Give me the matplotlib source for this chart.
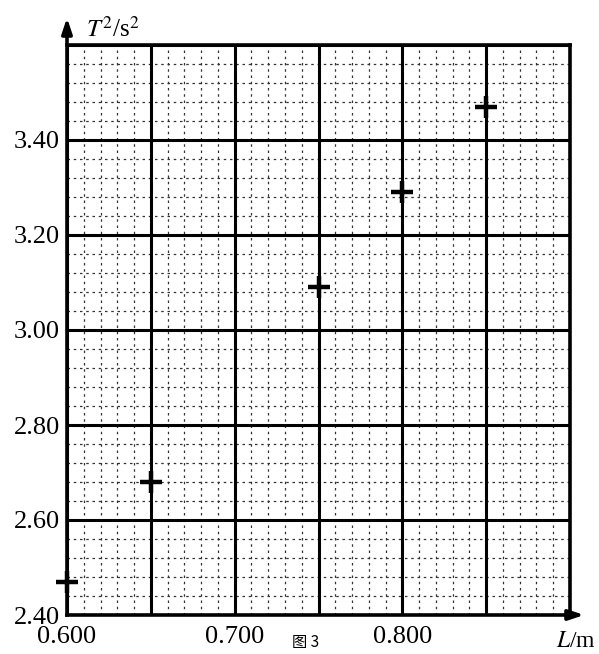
import matplotlib
matplotlib.use("Agg")
import matplotlib.pyplot as plt
from matplotlib.ticker import FixedLocator, FixedFormatter

# data
L_values = [0.600, 0.650, 0.750, 0.800, 0.850]
T2_values = [2.47, 2.68, 3.09, 3.29, 3.47]
x_tick_values = [0.600, 0.700, 0.800]
x_tick_labels = ["0.600", "0.700", "0.800"]
y_tick_values = [2.40, 2.60, 2.80, 3.00, 3.20, 3.40]
y_tick_labels = ["2.40", "2.60", "2.80", "3.00", "3.20", "3.40"]

plt.rcParams['font.family'] = ['Liberation Serif', 'Noto Sans CJK SC', 'DejaVu Sans']
plt.rcParams['mathtext.fontset'] = 'stix'

W, H = 599, 654
fig = plt.figure(figsize=(W / 100, H / 100), dpi=100)
left, right, bottom, top = 67, 570, 615, 45
ax = fig.add_axes([left / W, 1 - bottom / H, (right - left) / W, (bottom - top) / H])

ax.set_xlim(0.6, 0.9)
ax.set_ylim(2.4, 3.6)

# grid lines
for k in range(31):
    x = 0.60 + 0.01 * k
    if k % 5 == 0:
        ax.axvline(x, color='black', lw=2.2, zorder=2)
    else:
        ax.axvline(x, color='#333333', lw=0.9, ls=(0, (2, 3)), zorder=1)
for k in range(31):
    y = 2.40 + 0.04 * k
    if k % 5 == 0:
        ax.axhline(y, color='black', lw=2.2, zorder=2)
    else:
        ax.axhline(y, color='#333333', lw=0.9, ls=(0, (2, 3)), zorder=1)

ax.xaxis.set_major_locator(FixedLocator(x_tick_values))
ax.xaxis.set_major_formatter(FixedFormatter(x_tick_labels))
ax.yaxis.set_major_locator(FixedLocator(y_tick_values))
ax.yaxis.set_major_formatter(FixedFormatter(y_tick_labels))
ax.tick_params(length=0, labelsize=19, pad=5)
ax.tick_params(axis='x', pad=8)

for s in ax.spines.values():
    s.set_linewidth(2.6)

ax.plot(L_values, T2_values, linestyle='none', marker='+', markersize=16,
        markeredgewidth=3.2, color='black', clip_on=False, zorder=5)

# axis arrows
ax.annotate('', xy=(0, 1 + 30 / (bottom - top)), xycoords='axes fraction',
            xytext=(0, 1), textcoords='axes fraction',
            arrowprops=dict(arrowstyle='-|>,head_length=0.9,head_width=0.3', color='black', lw=2.6))
ax.annotate('', xy=(1 + 17 / (right - left), 0), xycoords='axes fraction',
            xytext=(1, 0), textcoords='axes fraction',
            arrowprops=dict(arrowstyle='-|>,head_length=0.9,head_width=0.3', color='black', lw=2.6))

fig.text(86 / W, 1 - 37 / H, r'$T^2$/s$^2$', fontsize=18, ha='left', va='baseline')
fig.text(596 / W, 1 - 647 / H, r'$L$/m', fontsize=17, ha='right', va='baseline')
fig.text(292 / W, 1 - 651 / H, '图 3', fontsize=11, ha='left', va='bottom',
         family=['Noto Sans CJK SC', 'DejaVu Sans'])

fig.savefig('out.png', dpi=100)
